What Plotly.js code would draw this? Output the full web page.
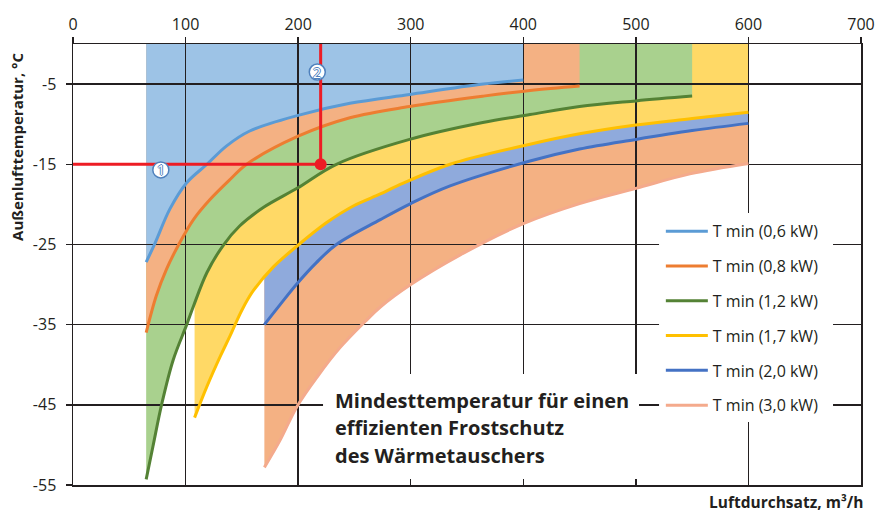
<!DOCTYPE html>
<html><head><meta charset="utf-8">
<script src="https://cdn.plot.ly/plotly-3.0.1.min.js"></script>
<style>html,body{margin:0;padding:0;background:#fff}#chart{width:876px;height:514px}</style>
</head><body><div id="chart"></div>
<script>
// ---- data ----
const xTicks = [0, 100, 200, 300, 400, 500, 600, 700];
const yTicks = [-5, -15, -25, -35, -45, -55];
const yTickText = ['-5', '-15', '-25', '-35', '-45', '-55'];

const names = ['T min (0,6 kW)', 'T min (0,8 kW)', 'T min (1,2 kW)', 'T min (1,7 kW)', 'T min (2,0 kW)', 'T min (3,0 kW)'];

const x06 = [65, 73, 86, 101, 119, 136.5, 157, 200, 246, 299, 364.5, 400];
const y06 = [-27.2, -24.8, -20.6, -17.3, -15.0, -12.7, -10.85, -8.9, -7.4, -6.3, -5.0, -4.5];

const x08 = [65, 74, 83, 93.6, 107, 121.7, 139.5, 154.3, 200, 246, 299, 364.5, 406, 450];
const y08 = [-36.0, -31.4, -28.1, -25.1, -21.9, -19.4, -16.9, -15.0, -11.5, -9.2, -7.8, -6.5, -5.8, -5.25];

const x12 = [65, 71, 79, 89, 101, 107, 119, 133.5, 148, 169, 199, 234, 299, 364, 406, 450, 500, 550];
const y12 = [-54.3, -50.2, -44.8, -39.4, -35, -32.7, -28.5, -25.1, -22.7, -20.4, -18.0, -15, -11.9, -9.8, -8.8, -7.8, -7.1, -6.5];

const x17 = [108, 119, 131, 139.5, 150, 160, 178, 199, 225, 249, 273, 288, 335, 406, 450, 500, 550, 600];
const y17 = [-46.6, -42.7, -38.9, -36.4, -33.2, -30.8, -27.8, -25.2, -22.3, -20.2, -18.7, -17.7, -15.0, -12.5, -11.2, -10.1, -9.3, -8.5];

const x20 = [170, 184, 199, 216, 234, 273, 300, 335, 406, 450, 500, 550, 600];
const y20 = [-35, -32.5, -29.9, -27.3, -25, -21.9, -19.9, -17.7, -14.6, -13.1, -11.9, -10.8, -9.9];

const x30 = [170, 184, 199, 217, 237, 261, 273, 300, 344, 400, 450, 500, 548, 600];
const y30 = [-52.8, -49.4, -45.2, -41.5, -37.9, -34.4, -32.8, -30, -26.3, -22.4, -19.9, -18, -16.2, -14.9];

// reading example (red guide)
const guideX = [0, 220, 220];
const guideY = [-15, -15, 0];
const pointX = [220];
const pointY = [-15];
const badgeX = [78, 217];
const badgeY = [-15.7, -3.5];
const badgeText = ['1', '2'];

// ---- styles ----
const lineColors = ['#5B9BD5', '#ED7D31', '#548235', '#FFC000', '#4472C4', '#F4AA8C'];
const fillColors = ['#9DC3E6', '#F4B183', '#A9D18E', '#FFD966', '#8FAADC', '#F4B183'];
const xs = [x06, x08, x12, x17, x20, x30];
const ys = [y06, y08, y12, y17, y20, y30];
const INK = '#231F20';
const FONT = 'Open Sans, sans-serif';
const SM = 1.0;

const traces = [];
// fills (subplot 1), drawn from the lowest band up
for (let k = xs.length - 1; k >= 0; k--) {
  traces.push({
    x: xs[k], y: xs[k].map(() => 0), xaxis: 'x', yaxis: 'y',
    mode: 'lines', line: {width: 0, shape: 'spline', smoothing: SM},
    showlegend: false, hoverinfo: 'skip'
  });
  traces.push({
    x: xs[k], y: ys[k], xaxis: 'x', yaxis: 'y',
    mode: 'lines', line: {width: 0, shape: 'spline', smoothing: SM},
    fill: 'tonexty', fillcolor: fillColors[k],
    showlegend: false, hoverinfo: 'skip'
  });
}
// curves (subplot 2, above grid)
for (let k = 0; k < xs.length; k++) {
  traces.push({
    x: xs[k], y: ys[k], xaxis: 'x2', yaxis: 'y2', name: names[k],
    legendgroup: 'g' + k,
    mode: 'lines', line: {color: lineColors[k], width: 3, shape: 'spline', smoothing: SM}
  });
}
traces.push({
  x: guideX, y: guideY, xaxis: 'x2', yaxis: 'y2', mode: 'lines',
  line: {color: '#ED1C24', width: 3}, showlegend: false, hoverinfo: 'skip'
});
traces.push({
  x: pointX, y: pointY, xaxis: 'x2', yaxis: 'y2', mode: 'markers',
  marker: {color: '#ED1C24', size: 12}, showlegend: false, hoverinfo: 'skip'
});

const shapes = [
  // white boxes behind legend and label
  {type: 'rect', xref: 'paper', yref: 'paper', x0: 0.7437, x1: 0.9645, y0: 0.1429, y1: 0.6168,
   fillcolor: '#fff', line: {width: 0}, layer: 'above'},
  {type: 'rect', xref: 'paper', yref: 'paper', x0: 0.3173, x1: 0.7183, y0: 0.0136, y1: 0.2517,
   fillcolor: '#fff', line: {width: 0}, layer: 'above'}
];
const annotations = [];
badgeX.forEach((bx, i) => {
  shapes.push({type: 'circle', xref: 'x2', yref: 'y2', xsizemode: 'pixel', ysizemode: 'pixel',
    xanchor: bx, yanchor: badgeY[i], x0: -8, x1: 8, y0: -8, y1: 8,
    fillcolor: '#FFFFFF', line: {color: '#4F81BD', width: 1.5}, layer: 'above'});
  annotations.push({xref: 'x2', yref: 'y2', x: bx, y: badgeY[i], text: badgeText[i], showarrow: false,
    xanchor: 'center', yanchor: 'middle',
    font: {family: FONT, size: 14, color: '#FFFFFF',
      shadow: '1px 0 0 #4F81BD, -1px 0 0 #4F81BD, 0 1px 0 #4F81BD, 0 -1px 0 #4F81BD'}});
});

const textLines = ['Mindesttemperatur für einen', 'effizienten Frostschutz', 'des Wärmetauschers'];
const textY = [0.1905, 0.1293, 0.068];
textLines.forEach((t, i) => annotations.push({
  xref: 'paper', yref: 'paper', x: 0.3295, y: textY[i], xanchor: 'left', yanchor: 'middle',
  text: '<b>' + t + '</b>', showarrow: false, font: {family: FONT, size: 20, color: INK}
}));
annotations.push({xref: 'paper', yref: 'paper', x: -0.0705, y: 0.7676, textangle: -90,
  xanchor: 'center', yanchor: 'middle', showarrow: false,
  text: '<b>Außenlufttemperatur, °C</b>', font: {family: FONT, size: 15, color: INK}});
annotations.push({xref: 'paper', yref: 'paper', x: 1.005, y: -0.0385, xanchor: 'right', yanchor: 'middle',
  showarrow: false, text: '<b>Luftdurchsatz, m³/h</b>', font: {family: FONT, size: 15.5, color: INK}});

const layout = {
  width: 876, height: 514,
  margin: {l: 73, r: 15, t: 44, b: 29},
  paper_bgcolor: '#fff', plot_bgcolor: 'rgba(0,0,0,0)',
  font: {family: FONT, color: INK},
  xaxis: {domain: [0, 1], range: [0, 700], visible: false, anchor: 'y'},
  yaxis: {domain: [0, 1], range: [-55, 0], visible: false, anchor: 'x'},
  xaxis2: {domain: [0, 1], anchor: 'y2', side: 'top', range: [0, 700],
    tickmode: 'array', tickvals: xTicks, ticks: 'outside', ticklen: 6, tickwidth: 1.5, tickcolor: INK,
    showline: true, mirror: true, linecolor: INK, linewidth: 1.5,
    showgrid: true, gridcolor: INK, gridwidth: 1.5, zeroline: false,
    tickfont: {family: FONT, size: 16, color: INK}, layer: 'above traces'},
  yaxis2: {domain: [0, 1], anchor: 'x2', range: [-55, 0],
    tickmode: 'array', tickvals: yTicks, ticktext: yTickText, ticks: 'outside', ticklen: 6, tickwidth: 1.5, tickcolor: INK,
    showline: true, mirror: true, linecolor: INK, linewidth: 1.5,
    showgrid: true, gridcolor: INK, gridwidth: 1.5, zeroline: false,
    tickfont: {family: FONT, size: 16, color: INK}, layer: 'above traces', ticklabelstandoff: 6},
  legend: {x: 0.746, y: 0.614, xanchor: 'left', yanchor: 'top', bgcolor: 'rgba(0,0,0,0)',
    font: {family: FONT, size: 16, color: INK}, itemwidth: 42, tracegroupgap: 11, traceorder: 'grouped'},
  shapes: shapes,
  annotations: annotations,
  showlegend: true
};
Plotly.newPlot('chart', traces, layout, {displayModeBar: false, staticPlot: true});
</script>
</body></html>
